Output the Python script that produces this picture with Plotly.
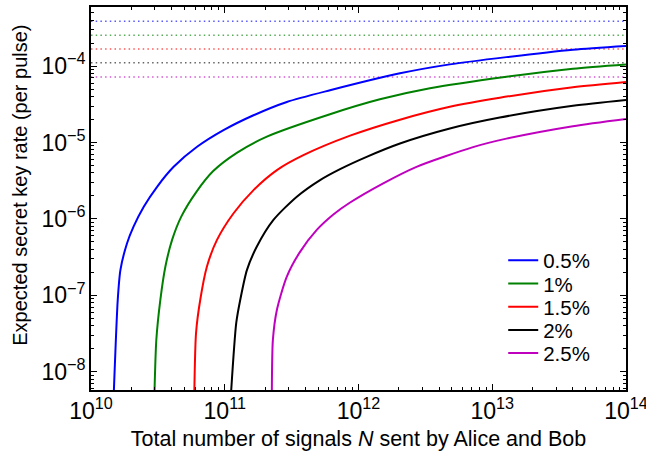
import plotly.graph_objects as go

# Data
labels = ["0.5%", "1%", "1.5%", "2%", "2.5%"]
colors = ["#0000ff", "#008000", "#ff0000", "#000000", "#bf00bf"]
dot_colors = ["rgba(0,0,255,0.65)", "rgba(0,128,0,0.65)", "rgba(255,0,0,0.65)",
              "rgba(0,0,0,0.6)", "rgba(191,0,191,0.65)"]

# asymptotic key rates (dotted lines)
asymptotes = [3.87e-4, 2.54e-4, 1.67e-4, 1.107e-4, 7.18e-5]
N_range = [1e10, 1e14]

N_05 = [1.479e10, 1.585e10, 1.66e10, 1.86e10, 2.08e10, 2.48e10, 3.12e10, 4.15e10, 6.21e10,
        9.79e10, 1.641e11, 2.911e11, 6.124e11, 2.042e12, 4.819e12, 1.276e13, 4.009e13, 1e14]
R_05 = [5e-9, 8.73e-8, 2.15e-7, 4.80e-7, 7.91e-7, 1.442e-6, 2.63e-6, 4.80e-6, 8.77e-6,
        1.449e-5, 2.27e-5, 3.39e-5, 4.82e-5, 8.03e-5, 1.052e-4, 1.309e-4, 1.637e-4, 1.832e-4]

N_10 = [2.98e10, 3.08e10, 3.30e10, 3.60e10, 4.04e10, 4.73e10, 6.12e10, 8.20e10,
        1.239e11, 2.065e11, 6.12e11, 1.445e12, 3.42e12, 1.276e13, 4.01e13, 1e14]
R_10 = [5e-9, 2.62e-8, 8.73e-8, 2.38e-7, 5.30e-7, 1.069e-6, 2.24e-6, 4.22e-6,
        7.36e-6, 1.191e-5, 2.34e-5, 3.67e-5, 5.12e-5, 7.23e-5, 9.25e-5, 1.052e-4]

N_15 = [5.92e10, 6.10e10, 6.56e10, 7.36e10, 8.75e10, 1.164e11, 1.641e11, 2.455e11,
        3.873e11, 8.65e11, 2.042e12, 4.82e12, 1.138e13, 4.01e13, 1e14]
R_15 = [5e-9, 3.21e-8, 8.73e-8, 2.38e-7, 5.30e-7, 1.183e-6, 2.38e-6, 4.35e-6,
        6.82e-6, 1.227e-5, 1.986e-5, 2.93e-5, 3.85e-5, 5.27e-5, 6.18e-5]

N_20 = [1.112e11, 1.219e11, 1.306e11, 1.466e11, 1.738e11, 2.312e11, 3.459e11, 5.16e11,
        7.28e11, 1.151e12, 2.042e12, 4.82e12, 1.138e13, 4.01e13, 1e14]
R_20 = [5e-9, 4.34e-8, 8.73e-8, 2.15e-7, 4.34e-7, 9.68e-7, 1.95e-6, 3.22e-6,
        4.48e-6, 6.49e-6, 9.70e-6, 1.524e-5, 2.12e-5, 3.02e-5, 3.60e-5]

N_25 = [2.249e11, 2.291e11, 2.455e11, 2.911e11, 3.656e11, 4.875e11, 6.486e11, 8.65e11,
        1.531e12, 2.716e12, 7.19e12, 1.276e13, 4.01e13, 1e14]
R_25 = [5e-9, 2.62e-8, 6.47e-8, 1.758e-7, 3.70e-7, 7.16e-7, 1.140e-6, 1.637e-6,
        2.92e-6, 4.80e-6, 8.69e-6, 1.122e-5, 1.633e-5, 2.03e-5]

curves = [(N_05, R_05), (N_10, R_10), (N_15, R_15), (N_20, R_20), (N_25, R_25)]

x_title = "Total number of signals <i>N</i> sent by Alice and Bob"
y_title = "Expected secret key rate (per pulse)"

FONT = "Liberation Sans, Arial, Helvetica, sans-serif"

# vertical centres (paper units) of the five legend entries
legend_y = [0.338, 0.2775, 0.217, 0.1565, 0.096]
legend_x = 0.7705

fig = go.Figure()

for a, dc in zip(asymptotes, dot_colors):
    fig.add_trace(go.Scatter(x=N_range, y=[a, a], mode="lines",
                             line=dict(color=dc, width=1.5, dash="1.5px,3.2px"),
                             showlegend=False, hoverinfo="skip"))

legend_names = ["legend", "legend2", "legend3", "legend4", "legend5"]
for (xs, ys), lab, c, lg in zip(curves, labels, colors, legend_names):
    fig.add_trace(go.Scatter(x=xs, y=ys, mode="lines", name=lab, legend=lg,
                             line=dict(color=c, width=2, shape="spline", smoothing=0.7)))

axis_common = dict(
    type="log", showgrid=False, zeroline=False, automargin=False,
    showline=True, linecolor="black", linewidth=1.5, mirror="ticks",
    ticks="inside", ticklen=6, tickwidth=1, tickcolor="black",
    dtick=1, exponentformat="power", showexponent="all",
    ticklabeloverflow="allow",
    tickfont=dict(family=FONT, size=18.5, color="black"),
    minor=dict(ticks="inside", ticklen=3, tickcolor="black", dtick="D1", showgrid=False),
)

layout_legends = {}
for lg, ly in zip(legend_names, legend_y):
    layout_legends[lg] = dict(x=legend_x, y=ly, xanchor="left", yanchor="middle",
                              bgcolor="rgba(0,0,0,0)", borderwidth=0,
                              font=dict(family=FONT, size=20.5, color="black"))

fig.update_layout(
    width=646, height=460,
    margin=dict(l=90.5, r=19.5, t=6.5, b=69.5),
    paper_bgcolor="white", plot_bgcolor="white",
    font=dict(family=FONT, size=20, color="black"),
    showlegend=True,
    xaxis=dict(axis_common, range=[10, 14],
               title=dict(text=x_title, font=dict(family=FONT, size=21.5), standoff=8)),
    yaxis=dict(axis_common, range=[-8.24, -3.227]),
    annotations=[dict(text=y_title, textangle=-90, xref="paper", yref="paper",
                      x=-0.1334, y=0.535, xanchor="center", yanchor="middle",
                      showarrow=False, font=dict(family=FONT, size=20, color="black"))],
    **layout_legends,
)

fig.write_html("out.html", config={"displayModeBar": False},
               post_script="document.body.style.margin='0';document.body.style.padding='0';")
